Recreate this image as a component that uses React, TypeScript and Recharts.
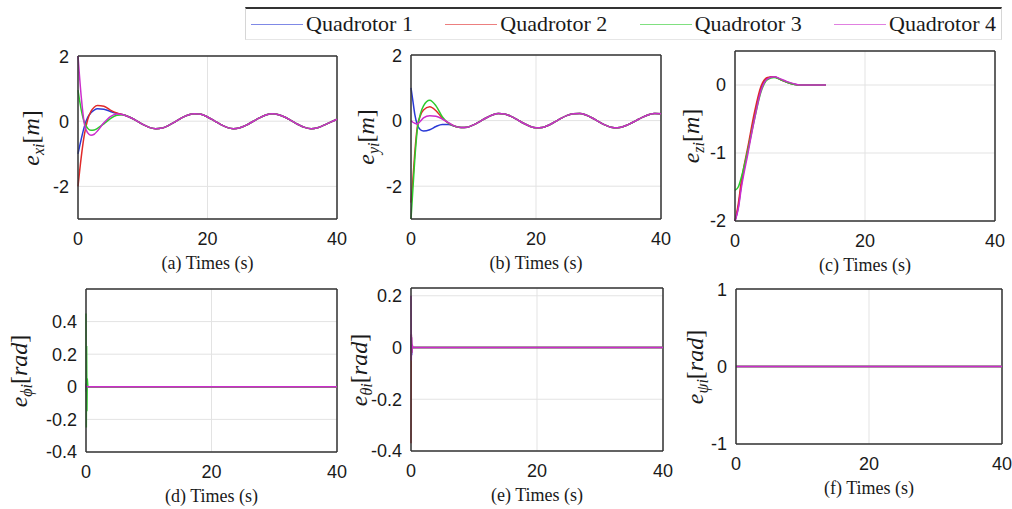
import { CartesianGrid, Line, LineChart, ReferenceLine, XAxis, YAxis } from 'recharts';
import type { ReactNode } from 'react';

const seriesNames = ['Quadrotor 1', 'Quadrotor 2', 'Quadrotor 3', 'Quadrotor 4'];
const seriesColors = ['#2a3ad6', '#e02a2a', '#2ccc2c', '#cc2ccc'];
const timeTicks = [0, 20, 40];

// (a) x error: transient part, then the shared oscillation from t = 7 s
const tA = [0, 0.5, 1, 1.5, 2, 2.5, 3, 4, 5, 6, 7, 8, 9, 10, 11, 12, 13, 14, 15, 16, 17, 18, 19, 20, 21, 22, 23, 24, 25, 26, 27, 28, 29, 30, 31, 32, 33, 34, 35, 36, 37, 38, 39, 40];
const exCommon = [0.2, 0.12, 0.02, -0.1, -0.19, -0.23, -0.21, -0.13, -0.02, 0.1, 0.19, 0.23, 0.21, 0.13, 0.02, -0.1, -0.19, -0.23, -0.2, -0.12, -0.01, 0.1, 0.19, 0.23, 0.2, 0.12, 0.01, -0.1, -0.19, -0.23, -0.2, -0.12, -0.03, 0.06];
const exQ1 = [-1.0, -0.55, -0.15, 0.12, 0.26, 0.34, 0.38, 0.37, 0.3, 0.24];
const exQ2 = [-2.0, -1.1, -0.4, 0.05, 0.3, 0.43, 0.48, 0.46, 0.34, 0.25];
const exQ3 = [0.95, 0.35, -0.05, -0.22, -0.28, -0.27, -0.22, -0.08, 0.08, 0.18];
const exQ4 = [2.0, 0.75, -0.1, -0.36, -0.43, -0.4, -0.3, -0.05, 0.14, 0.22];

// (b) y error
const tB = [0, 0.3, 0.6, 1, 1.5, 2, 3, 4, 5, 6, 7, 8, 9, 10, 11, 12, 13, 14, 15, 16, 17, 18, 19, 20, 21, 22, 23, 24, 25, 26, 27, 28, 29, 30, 31, 32, 33, 34, 35, 36, 37, 38, 39, 40];
const eyCommon = [-0.17, -0.21, -0.2, -0.13, -0.03, 0.08, 0.17, 0.22, 0.2, 0.13, 0.03, -0.08, -0.17, -0.22, -0.21, -0.14, -0.04, 0.07, 0.16, 0.21, 0.22, 0.17, 0.08, -0.03, -0.13, -0.2, -0.22, -0.18, -0.1, 0.0, 0.1, 0.18, 0.22, 0.21];
const eyQ1 = [1.0, 0.6, 0.2, -0.12, -0.28, -0.32, -0.28, -0.18, -0.12, -0.12];
const eyQ2 = [-2.5, -1.8, -1.0, -0.2, 0.15, 0.32, 0.42, 0.3, 0.08, -0.08];
const eyQ3 = [-3.0, -2.1, -1.2, -0.3, 0.2, 0.45, 0.62, 0.45, 0.12, -0.08];
const eyQ4 = [0.0, -0.05, -0.08, -0.1, -0.02, 0.08, 0.15, 0.13, 0.05, -0.06];

// (c) z error
const tC = [0, 0.5, 1, 2, 3, 4, 5, 6, 7, 8, 9, 10, 12, 14];
const ezQ1 = [-2.0, -1.8, -1.45, -0.95, -0.45, -0.05, 0.1, 0.12, 0.08, 0.04, 0.01, 0, 0, 0];
const ezQ2 = [-2.0, -1.75, -1.4, -0.9, -0.4, -0.02, 0.11, 0.12, 0.08, 0.04, 0.01, 0, 0, 0];
const ezQ3 = [-1.55, -1.5, -1.35, -0.95, -0.5, -0.1, 0.08, 0.11, 0.08, 0.04, 0.01, 0, 0, 0];
const ezQ4 = [-2.0, -1.82, -1.5, -1.0, -0.5, -0.08, 0.09, 0.12, 0.09, 0.05, 0.02, 0, 0, 0];

// (d) phi error, (e) theta error
const tD = [0, 0.05, 0.1, 0.15, 0.2, 0.3, 0.5, 1, 40];
const ephiQ1 = [0.02, -0.03, 0.02, 0, 0, 0, 0, 0, 0];
const ephiQ2 = [0, 0.01, 0, 0, 0, 0, 0, 0, 0];
const ephiQ3 = [0.45, -0.25, 0.25, -0.15, 0.05, 0, 0, 0, 0];
const ephiQ4 = [0, 0.01, 0, 0, 0, 0, 0, 0, 0];
const ethQ1 = [0.02, 0.05, -0.03, 0.01, 0, 0, 0, 0, 0];
const ethQ2 = [-0.37, 0.05, -0.02, 0, 0, 0, 0, 0, 0];
const ethQ3 = [0, 0.03, -0.02, 0, 0, 0, 0, 0, 0];
const ethQ4 = [0.2, -0.05, 0.04, -0.02, 0.01, 0, 0, 0, 0];

// (f) psi error
const tF = [0, 40];
const epsiQ = [0, 0];

type Row = { t: number; q1: number; q2: number; q3: number; q4: number };

function buildRows(t: number[], s: number[][]): Row[] {
  return t.map((x, i) => ({ t: x, q1: s[0][i], q2: s[1][i], q3: s[2][i], q4: s[3][i] }));
}

const rowsA = buildRows(tA, [exQ1.concat(exCommon), exQ2.concat(exCommon), exQ3.concat(exCommon), exQ4.concat(exCommon)]);
const rowsB = buildRows(tB, [eyQ1.concat(eyCommon), eyQ2.concat(eyCommon), eyQ3.concat(eyCommon), eyQ4.concat(eyCommon)]);
const rowsC = buildRows(tC, [ezQ1, ezQ2, ezQ3, ezQ4]);
const rowsD = buildRows(tD, [ephiQ1, ephiQ2, ephiQ3, ephiQ4]);
const rowsE = buildRows(tD, [ethQ1, ethQ2, ethQ3, ethQ4]);
const rowsF = buildRows(tF, [epsiQ, epsiQ, epsiQ, epsiQ]);

const tickStyle = { fill: '#1a1a1a', fontSize: 18, fontFamily: '"Liberation Sans", Arial, sans-serif' };
const serif = '"Liberation Serif", "DejaVu Serif", serif';

interface PanelProps {
  rows: Row[];
  box: { x: number; y: number; w: number; h: number };
  domain: [number, number];
  yTicks: number[];
  caption: string;
  yLabel: ReactNode;
  yLabelX: number;
  curve: 'monotone' | 'linear';
}

const L = 70;
const T = 10;
const R = 12;
const B = 34;

function Panel({ rows, box, domain, yTicks, caption, yLabel, yLabelX, curve }: PanelProps) {
  return (
    <>
      <div style={{ position: 'absolute', left: box.x - L, top: box.y - T }}>
        <LineChart
          width={box.w + L + R}
          height={box.h + T + B}
          data={rows}
          margin={{ top: T, right: R, left: 0, bottom: 0 }}
        >
          <CartesianGrid stroke="#e3e3e3" strokeWidth={1} />
          <XAxis
            dataKey="t"
            type="number"
            domain={[0, 40]}
            ticks={timeTicks}
            height={B}
            tickLine={false}
            tickMargin={7}
            axisLine={{ stroke: '#333', strokeWidth: 1.5 }}
            tick={tickStyle}
          />
          <YAxis
            type="number"
            domain={domain}
            ticks={yTicks}
            width={L}
            tickLine={false}
            tickMargin={3}
            axisLine={{ stroke: '#333', strokeWidth: 1.5 }}
            tick={tickStyle}
            allowDataOverflow
          />
          <ReferenceLine y={domain[1]} stroke="#333" strokeWidth={1.5} />
          <ReferenceLine x={40} stroke="#333" strokeWidth={1.5} />
          {['q1', 'q2', 'q3', 'q4'].map((k, i) => (
            <Line
              key={k}
              type={curve}
              dataKey={k}
              name={seriesNames[i]}
              stroke={seriesColors[i]}
              strokeWidth={1.5}
              dot={false}
              isAnimationActive={false}
            />
          ))}
        </LineChart>
      </div>
      <div
        style={{
          position: 'absolute',
          left: yLabelX,
          top: box.y + box.h / 2,
          transform: 'translate(-50%, -50%) rotate(-90deg)',
          whiteSpace: 'nowrap',
          fontFamily: serif,
          fontSize: 24,
          color: '#1a1a1a',
        }}
      >
        {yLabel}
      </div>
      <div
        style={{
          position: 'absolute',
          left: box.x + box.w / 2,
          top: box.y + box.h + 44,
          transform: 'translate(-50%, -50%)',
          whiteSpace: 'nowrap',
          fontFamily: serif,
          fontSize: 18,
          color: '#1a1a1a',
        }}
      >
        {caption}
      </div>
    </>
  );
}

function ErrLabel({ sub, unit }: { sub: string; unit: string }) {
  return (
    <span>
      <i>e</i>
      <sub style={{ fontSize: 16 }}>
        <i>{sub}</i>
      </sub>
      [<i>{unit}</i>]
    </span>
  );
}

export default function App() {
  return (
    <div style={{ position: 'absolute', left: 0, top: 0, width: 1012, height: 509, background: '#fff', overflow: 'hidden' }}>
      <div
        style={{
          position: 'absolute',
          left: 245,
          top: 7,
          width: 757,
          height: 33,
          boxSizing: 'border-box',
          borderTop: '2px solid #333',
          borderLeft: '1px solid #d6d6d6',
          borderRight: '1px solid #d6d6d6',
          borderBottom: '1px solid #e6e6e6',
          display: 'flex',
          alignItems: 'center',
          justifyContent: 'space-between',
          padding: '0 5px',
          fontFamily: serif,
          fontSize: 22,
          color: '#1a1a1a',
        }}
      >
        {seriesNames.map((n, i) => (
          <div key={n} style={{ display: 'flex', alignItems: 'center' }}>
            <span style={{ display: 'inline-block', width: 52, height: 1, background: seriesColors[i], opacity: 0.6, marginRight: 3 }} />
            <span>{n}</span>
          </div>
        ))}
      </div>

      <Panel rows={rowsA} box={{ x: 78, y: 56, w: 259, h: 163 }} domain={[-3, 2]} yTicks={[-2, 0, 2]}
        caption="(a) Times (s)" yLabel={<ErrLabel sub="xi" unit="m" />} yLabelX={33} curve="monotone" />
      <Panel rows={rowsB} box={{ x: 411, y: 55, w: 250, h: 164 }} domain={[-3, 2]} yTicks={[-2, 0, 2]}
        caption="(b) Times (s)" yLabel={<ErrLabel sub="yi" unit="m" />} yLabelX={368} curve="monotone" />
      <Panel rows={rowsC} box={{ x: 735, y: 51, w: 260, h: 170 }} domain={[-2, 0.5]} yTicks={[-2, -1, 0]}
        caption="(c) Times (s)" yLabel={<ErrLabel sub="zi" unit="m" />} yLabelX={693} curve="monotone" />
      <Panel rows={rowsD} box={{ x: 86, y: 289, w: 251, h: 163 }} domain={[-0.4, 0.6]} yTicks={[-0.4, -0.2, 0, 0.2, 0.4]}
        caption="(d) Times (s)" yLabel={<ErrLabel sub="ϕi" unit="rad" />} yLabelX={21} curve="linear" />
      <Panel rows={rowsE} box={{ x: 411, y: 288, w: 252, h: 163 }} domain={[-0.4, 0.23]} yTicks={[-0.4, -0.2, 0, 0.2]}
        caption="(e) Times (s)" yLabel={<ErrLabel sub="θi" unit="rad" />} yLabelX={361} curve="linear" />
      <Panel rows={rowsF} box={{ x: 736, y: 289, w: 266, h: 155 }} domain={[-1, 1]} yTicks={[-1, 0, 1]}
        caption="(f) Times (s)" yLabel={<ErrLabel sub="ψi" unit="rad" />} yLabelX={697} curve="linear" />
    </div>
  );
}
